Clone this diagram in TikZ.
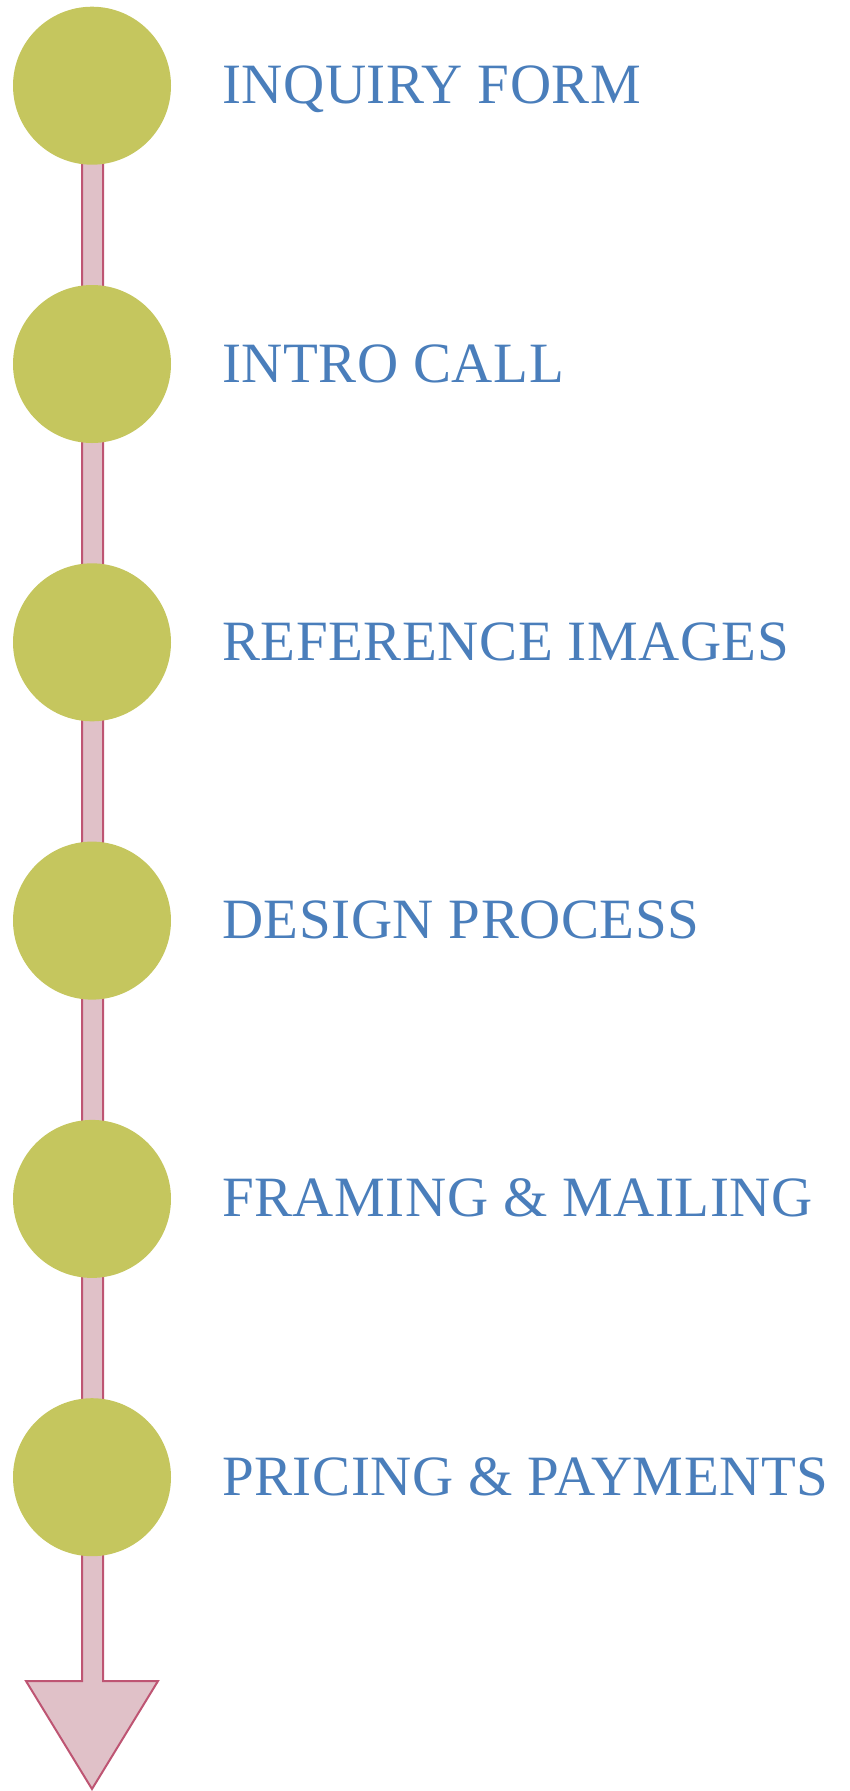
\documentclass[tikz,border=0pt]{standalone}
\usepackage{fontspec}
\setmainfont{Liberation Serif}[LetterSpace=1]
\definecolor{dotgreen}{RGB}{197,198,94}
\definecolor{labelblue}{RGB}{74,126,187}
\definecolor{shaftfill}{RGB}{224,193,200}
\definecolor{shaftline}{RGB}{190,85,115}
\tikzset{
  stepdot/.style={circle,fill=dotgreen,minimum size=158pt,inner sep=0pt},
  steplabel/.style={anchor=base west,text=labelblue,inner sep=0pt,font=\fontsize{57}{60}\selectfont},
}
\begin{document}
\begin{tikzpicture}[x=1pt,y=-1pt]
\useasboundingbox (0,0) rectangle (849,1791);
% arrow shaft and head
\draw[fill=shaftfill,draw=shaftline,line width=2pt,line join=miter]
  (82,150) -- (82,1681) -- (26,1681) -- (92,1789) -- (158,1681) -- (103,1681) -- (103,150) -- cycle;
\foreach \i/\t [count=\k from 0] in {a/INQUIRY FORM,b/INTRO CALL,c/REFERENCE IMAGES,d/DESIGN PROCESS,e/FRAMING \& MAILING,f/PRICING \& PAYMENTS}{
  \node[stepdot] (dot\i) at (92,85.7+278.3*\k) {};
  \node[steplabel] (lab\i) at (222,85.7+278.3*\k+18) {\t};
}
\end{tikzpicture}
\end{document}
